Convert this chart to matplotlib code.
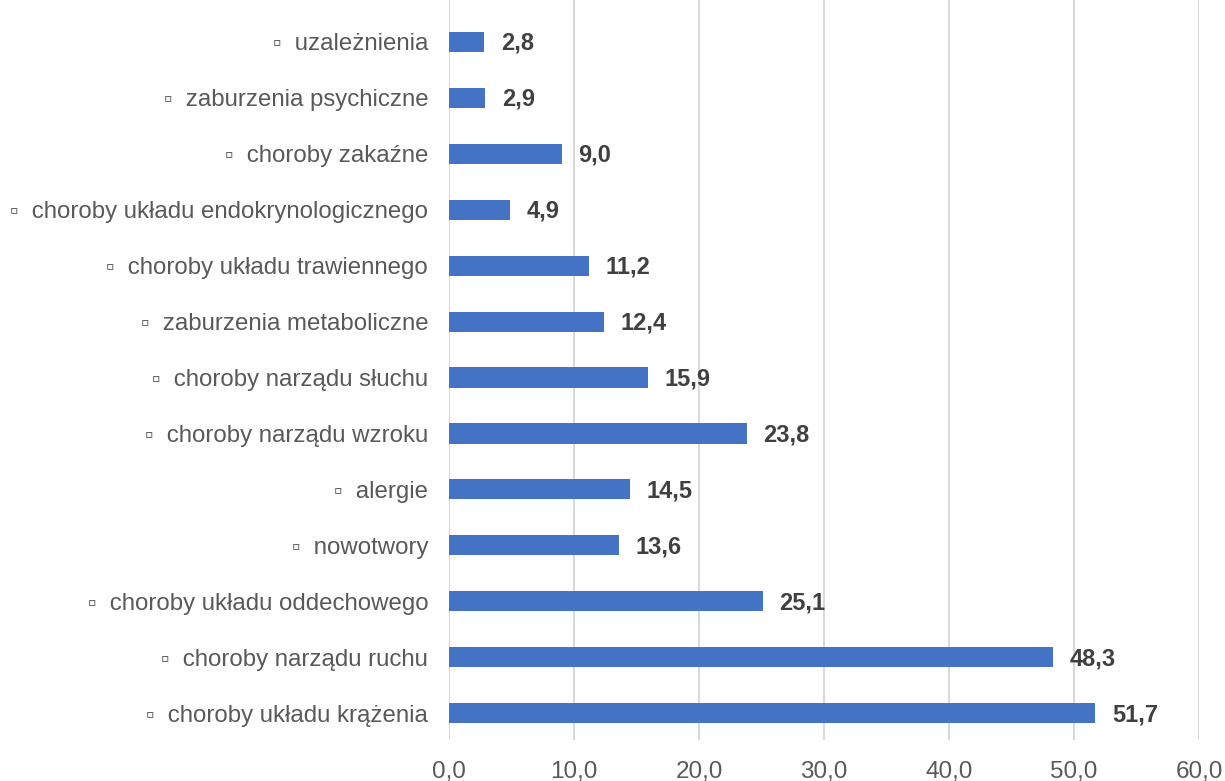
import matplotlib
matplotlib.use("Agg")
import matplotlib.pyplot as plt

plt.rcParams['font.family'] = ['Liberation Sans', 'DejaVu Sans']

# categories from bottom to top
categories = [
    'choroby układu krążenia',
    'choroby narządu ruchu',
    'choroby układu oddechowego',
    'nowotwory',
    'alergie',
    'choroby narządu wzroku',
    'choroby narządu słuchu',
    'zaburzenia metaboliczne',
    'choroby układu trawiennego',
    'choroby układu endokrynologicznego',
    'choroby zakaźne',
    'zaburzenia psychiczne',
    'uzależnienia',
]
values = [51.7, 48.3, 25.1, 13.6, 14.5, 23.8, 15.9, 12.4, 11.2, 4.9, 9.0, 2.9, 2.8]
xticks = [0, 10, 20, 30, 40, 50, 60]

fig = plt.figure(figsize=(12.25, 7.81), dpi=100)
ax = fig.add_axes([449 / 1225, 41 / 781, 750 / 1225, 740 / 781])

y = list(range(len(categories)))
ax.barh(y, values, height=0.36, color='#4472C4', zorder=3)

for yi, v in zip(y, values):
    ax.annotate(f'{v:.1f}'.replace('.', ','), (v, yi), xytext=(12, -1),
                textcoords='offset points', va='center', ha='left',
                fontsize=17, fontweight='bold', color='#404040')

ax.set_xlim(0, 60)
ax.set_ylim(-0.48, 12.75)
ax.set_xticks(xticks)
ax.set_xticklabels([f'{t:.1f}'.replace('.', ',') for t in xticks],
                   fontsize=17.5, color='#595959')
ax.set_yticks(y)
ax.set_yticklabels(['▫  ' + c for c in categories], fontsize=17.3, color='#595959')
ax.tick_params(axis='both', length=0)
ax.tick_params(axis='y', pad=15)
ax.tick_params(axis='x', pad=15)
ax.grid(axis='x', color='#D9D9D9', linewidth=1.5, zorder=0)
for s in ax.spines.values():
    s.set_visible(False)

fig.savefig('out.png', dpi=100)
